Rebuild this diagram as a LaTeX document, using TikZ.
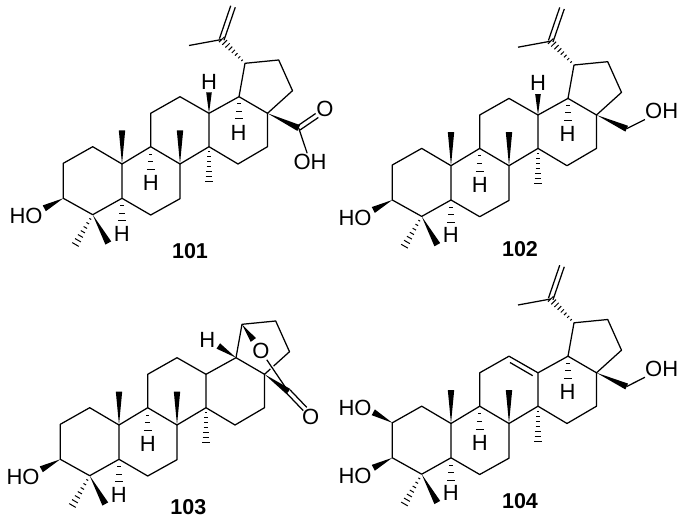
\documentclass[tikz,border=0pt]{standalone}
\usepackage{fontspec}
\setmainfont{Liberation Sans}
\usetikzlibrary{calc}

\tikzset{
  bond/.style={black,line width=1.25pt},
  atom/.style={inner sep=0.5pt,font=\fontsize{22}{22}\selectfont},
  label/.style={inner sep=0pt,font=\fontsize{21.5}{21.5}\selectfont\bfseries},
}

\newcommand{\wedgebond}[3][3.2]{%
  \fill (#2) -- ($(#3)!#1pt!90:(#2)$) -- ($(#3)!#1pt!-90:(#2)$) -- cycle;}
\newcommand{\hashbond}[3]{%
  \foreach \k in {1,...,#3}{
    \pgfmathsetmacro{\hpos}{\k/#3}
    \pgfmathsetmacro{\hwid}{0.6+3.2*\hpos}
    \draw [bond,line width=1pt] ($($(#1)!\hpos!(#2)$)!\hwid pt!90:(#1)$) -- ($($(#1)!\hpos!(#2)$)!\hwid pt!-90:(#1)$);
  }}
\newcommand{\dblbond}[2]{%
  \draw [bond] ($(#1)!2.4pt!90:(#2)$) -- ($(#2)!2.4pt!-90:(#1)$);
  \draw [bond] ($(#1)!2.4pt!-90:(#2)$) -- ($(#2)!2.4pt!90:(#1)$);}

\newcommand{\lupanecore}{%
  \coordinate (c_1) at (92.7,146.7);
  \coordinate (c_2) at (63.3,163.3);
  \coordinate (c_3) at (63.3,198.3);
  \coordinate (c_4) at (92.7,214.7);
  \coordinate (c_5) at (122,198.3);
  \coordinate (c_6) at (150.7,215);
  \coordinate (c_7) at (180,198.7);
  \coordinate (c_8) at (180,164);
  \coordinate (c_9) at (150.7,146.7);
  \coordinate (c_10) at (122,164);
  \coordinate (c_11) at (150.7,113.3);
  \coordinate (c_12) at (180,96.7);
  \coordinate (c_13) at (209,113.3);
  \coordinate (c_14) at (209,146.7);
  \coordinate (c_15) at (238,164);
  \coordinate (c_16) at (267.5,146.7);
  \coordinate (c_17) at (267.5,113.3);
  \coordinate (c_18) at (239,96.7);
  \coordinate (c_19) at (245,63.3);
  \coordinate (c_20) at (278.7,60);
  \coordinate (c_21) at (292.5,90.7);
  \coordinate (me_10) at (122,130.5);
  \coordinate (me_8) at (180,130.5);
  \coordinate (me_14) at (209,181.5);
  \coordinate (me_4a) at (75.5,244.5);
  \coordinate (me_4b) at (108.3,243);
  \coordinate (h_end_9) at (150.7,169.5);
  \coordinate (h_end_5) at (122,220.5);
  \coordinate (ho_end) at (44.3,208.3);
  \node (h_9) at (150.7,183) [atom] {H};
  \node (h_5) at (121.7,233.7) [atom] {H};
  \node (ho_3) at (26,216) [atom] {HO};
  \draw [bond] (c_3) -- (c_2) -- (c_1) -- (c_10) -- (c_5) -- (c_4) -- (c_3);
  \draw [bond] (c_5) -- (c_6) -- (c_7) -- (c_8) -- (c_9) -- (c_10);
  \draw [bond] (c_9) -- (c_11) -- (c_12) -- (c_13) -- (c_14) -- (c_8);
  \draw [bond] (c_14) -- (c_15) -- (c_16) -- (c_17) -- (c_18) -- (c_13);
  \draw [bond] (c_18) -- (c_19) -- (c_20) -- (c_21) -- (c_17);
  \wedgebond{c_10}{me_10}
  \wedgebond{c_8}{me_8}
  \wedgebond[3.3]{c_3}{ho_end}
  \wedgebond[3.3]{c_4}{me_4b}
  \hashbond{c_14}{me_14}{7}
  \hashbond{c_4}{me_4a}{7}
  \hashbond{c_9}{h_end_9}{3}
  \hashbond{c_5}{h_end_5}{3}
}
\newcommand{\isopropenyl}{%
  \coordinate (iso) at (221.7,39.5);
  \coordinate (iso_me) at (189,45.5);
  \coordinate (iso_ch) at (233,6.5);
  \hashbond{c_19}{iso}{8}
  \draw [bond] (iso) -- (iso_me);
  \dblbond{iso}{iso_ch}
}
\newcommand{\topring}{%
  \coordinate (h_end_13) at (209,92.5);
  \coordinate (h_end_18) at (239,118.5);
  \node (h_13) at (209,81.7) [atom] {H};
  \node (h_18) at (238.5,132.5) [atom] {H};
  \wedgebond[2.8]{c_13}{h_end_13}
  \hashbond{c_18}{h_end_18}{3}
}
\newcommand{\hydroxymethyl}{%
  \coordinate (ch_2) at (297.7,127);
  \node (oh_2) at (332.7,109.3) [atom] {OH};
  \wedgebond{c_17}{ch_2}
  \draw [bond] (ch_2) -- (oh_2);
}

\begin{document}
\begin{tikzpicture}[x=1pt,y=-1pt,line join=bevel]
\useasboundingbox (0,0) rectangle (685,526);
%%
\begin{scope}[name prefix=a_]
  \lupanecore
  \isopropenyl
  \topring
  \coordinate (co_c) at (298.7,128);
  \coordinate (co_end) at (317,115.5);
  \node (co_o) at (325,108.5) [atom] {O};
  \node (co_oh) at (310,161.7) [atom] {OH};
  \wedgebond{c_17}{co_c}
  \dblbond{co_c}{co_end}
  \draw [bond] (co_c) -- (co_oh);
  \node (num_a) at (190,251.5) [label] {101};
\end{scope}
%%
\begin{scope}[name prefix=b_,shift={(329,1.7)}]
  \lupanecore
  \isopropenyl
  \topring
  \hydroxymethyl
  \node (num_b) at (191,247.7) [label] {102};
\end{scope}
%%
\begin{scope}[name prefix=c_,shift={(-3,261)}]
  \lupanecore
  \coordinate (h_end_18) at (221.3,85);
  \coordinate (lac_end) at (256.3,79);
  \coordinate (lac_c) at (291.3,130.5);
  \coordinate (co_end) at (308,148);
  \node (h_18) at (210.3,79) [atom] {H};
  \node (lac_o) at (264,90.3) [atom] {O};
  \node (co_o) at (313.7,156.3) [atom] {O};
  \draw [bond,white,line width=4pt,shorten >=16pt] (lac_o) -- (lac_c);
  \draw [bond] (lac_o) -- (lac_c);
  \wedgebond{c_18}{h_end_18}
  \wedgebond{c_19}{lac_end}
  \wedgebond{c_17}{lac_c}
  \dblbond{lac_c}{co_end}
  \node (num_c) at (191.3,245.7) [label] {103};
\end{scope}
%%
\begin{scope}[name prefix=d_,shift={(329,259.5)}]
  \lupanecore
  \isopropenyl
  \hydroxymethyl
  \coordinate (h_end_18) at (239,118.5);
  \coordinate (dbl_a) at (181,103);
  \coordinate (dbl_b) at (203.7,116.2);
  \coordinate (ho_end_2) at (44.3,152.8);
  \node (h_18) at (238.5,132.5) [atom] {H};
  \node (ho_2) at (26,148.8) [atom] {HO};
  \hashbond{c_18}{h_end_18}{3}
  \wedgebond[3.3]{c_2}{ho_end_2}
  \draw [bond] (dbl_a) -- (dbl_b);
  \node (num_d) at (191,241.5) [label] {104};
\end{scope}
%
\end{tikzpicture}
\end{document}
